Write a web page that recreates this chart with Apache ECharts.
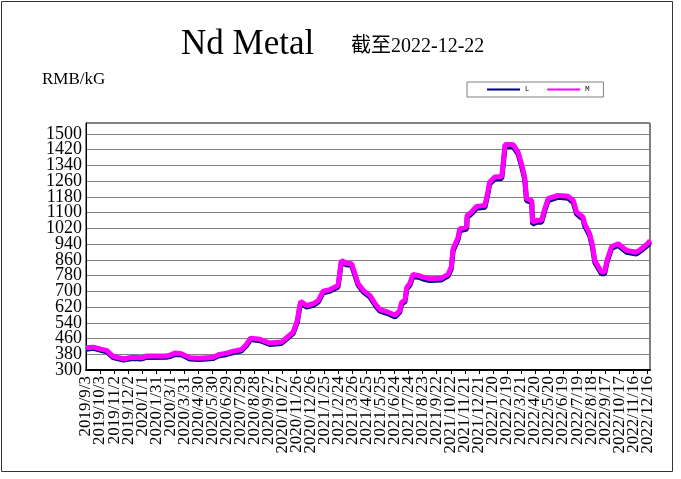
<!DOCTYPE html>
<html><head><meta charset="utf-8">
<script src="https://cdn.jsdelivr.net/npm/echarts@6/dist/echarts.min.js"></script>
<style>html,body{margin:0;padding:0;background:#fff}#c{width:681px;height:479px}</style>
</head><body><div id="c"></div>
<script>
const tickLabels = ['2019/9/3','2019/10/3','2019/11/2','2019/12/2','2020/1/1','2020/1/31','2020/3/1','2020/3/31','2020/4/30','2020/5/30','2020/6/29','2020/7/29','2020/8/28','2020/9/27','2020/10/27','2020/11/26','2020/12/26','2021/1/25','2021/2/24','2021/3/26','2021/4/25','2021/5/25','2021/6/24','2021/7/24','2021/8/23','2021/9/22','2021/10/22','2021/11/21','2021/12/21','2022/1/20','2022/2/19','2022/3/21','2022/4/20','2022/5/20','2022/6/19','2022/7/19','2022/8/18','2022/9/17','2022/10/17','2022/11/16','2022/12/16'];
const dates = ['2019/9/3','2019/9/19','2019/10/7','2019/10/17','2019/10/31','2019/11/22','2019/12/12','2019/12/31','2020/1/10','2020/2/22','2020/2/29','2020/3/11','2020/3/25','2020/4/12','2020/5/3','2020/6/1','2020/6/12','2020/6/30','2020/7/14','2020/7/31','2020/8/11','2020/8/20','2020/9/9','2020/9/30','2020/10/25','2020/11/5','2020/11/19','2020/11/28','2020/12/2','2020/12/5','2020/12/18','2021/1/1','2021/1/12','2021/1/22','2021/2/5','2021/2/23','2021/3/2','2021/3/13','2021/3/24','2021/4/7','2021/4/18','2021/5/2','2021/5/16','2021/5/24','2021/6/10','2021/6/25','2021/7/5','2021/7/9','2021/7/16','2021/7/20','2021/7/27','2021/8/2','2021/8/13','2021/8/24','2021/9/7','2021/10/2','2021/10/16','2021/10/23','2021/10/27','2021/11/7','2021/11/10','2021/11/25','2021/11/26','2021/12/5','2021/12/16','2022/1/3','2022/1/10','2022/1/13','2022/1/24','2022/2/8','2022/2/11','2022/2/15','2022/3/4','2022/3/15','2022/3/22','2022/3/29','2022/4/2','2022/4/13','2022/4/15','2022/4/24','2022/5/4','2022/5/11','2022/5/18','2022/6/8','2022/6/30','2022/7/11','2022/7/18','2022/8/1','2022/8/4','2022/8/15','2022/8/21','2022/8/26','2022/9/9','2022/9/16','2022/9/21','2022/10/1','2022/10/15','2022/11/2','2022/11/23','2022/12/4','2022/12/18','2022/12/22'];
const highM = [413,416,405,400,369,357,365,362,371,371,375,386,383,362,360,365,378,386,396,403,430,462,456,437,442,464,493,552,612,649,628,637,654,701,708,730,857,843,840,739,705,679,628,607,594,578,603,645,654,721,742,786,781,772,764,767,786,823,917,976,1018,1027,1086,1103,1132,1137,1213,1255,1281,1284,1349,1447,1447,1408,1349,1281,1171,1162,1052,1061,1061,1120,1171,1188,1183,1162,1103,1077,1044,993,934,857,798,798,857,928,942,908,899,917,945,959];
const lowL = [406,410,399,393,363,351,358,356,364,365,368,379,377,356,354,358,371,379,389,396,423,455,449,430,435,457,486,544,604,641,620,629,646,693,700,722,848,835,832,731,697,671,620,599,586,570,595,636,646,712,733,777,772,763,755,758,777,814,907,966,1008,1017,1076,1093,1122,1127,1203,1245,1271,1274,1339,1437,1437,1398,1339,1271,1161,1152,1042,1051,1051,1110,1161,1178,1173,1152,1093,1067,1034,983,924,847,789,789,848,919,933,899,890,908,936,950];
const legendNames = ['L','M'];

const t0 = Date.UTC(2019,8,3);
function dayIdx(s){const p=s.split('/').map(Number);return Math.round((Date.UTC(p[0],p[1]-1,p[2])-t0)/86400000);}
const serif = "'Liberation Serif','Noto Sans CJK SC',serif";
const xMax = dayIdx('2022/12/22');
const Y_MIN = 300, Y_MAX = 1556, Y_STEP = 80;

function xLab(onlyMin){
  return {rotate:90,showMaxLabel:false,showMinLabel:onlyMin?true:false,margin:6,color:'#000',fontFamily:serif,fontSize:17,
    formatter:function(v){const i=Math.round(v/30);if(v%30!==0||!tickLabels[i])return '';if(onlyMin)return i===0?tickLabels[0]:'';return tickLabels[i];}};
}
function yLab(onlyMin){
  return {showMaxLabel:false,showMinLabel:onlyMin?true:false,margin:4,color:'#000',fontFamily:serif,fontSize:18,
    formatter:function(v){if(v>=1550)return '';if(onlyMin)return v===Y_MIN?String(v):'';return String(v);}};
}

const chart = echarts.init(document.getElementById('c'), null, {renderer:'canvas'});
chart.setOption({
  animation:false,
  backgroundColor:'#fff',
  title:[
    {text:'Nd Metal',left:176,top:22,textStyle:{fontFamily:serif,fontSize:35,fontWeight:'normal',color:'#000'}},
    {text:'截至2022-12-22',left:346,top:32,textStyle:{fontFamily:serif,fontSize:20,fontWeight:'normal',color:'#000'}},
    {text:'RMB/kG',left:37,top:66,textStyle:{fontFamily:serif,fontSize:17,fontWeight:'normal',color:'#000'}}
  ],
  legend:{data:legendNames,left:467,top:82,padding:[4,14,4,20],itemGap:18,itemWidth:33,itemHeight:2,icon:'rect',
    borderColor:'#808080',borderWidth:1,textStyle:{fontSize:7,color:'#000',fontFamily:'DejaVu Sans Mono'}},
  grid:{left:86,top:123,width:564,height:247,show:true,borderColor:'#000',borderWidth:1,containLabel:false},
  xAxis:[
    {type:'value',min:0,max:xMax,interval:30,position:'bottom',
      axisLine:{show:true,onZero:false,lineStyle:{color:'#000',width:2}},
      axisTick:{show:true,length:4,lineStyle:{color:'#000'}},
      splitLine:{show:false},axisLabel:xLab(false)},
    {type:'value',min:0,max:xMax,interval:30,position:'bottom',offset:0,
      axisLine:{show:false},axisTick:{show:false},splitLine:{show:false},axisLabel:xLab(true)}
  ],
  yAxis:[
    {type:'value',min:Y_MIN,max:Y_MAX,interval:Y_STEP,position:'left',
      axisLine:{show:true,onZero:false,lineStyle:{color:'#000'}},axisTick:{show:false},
      splitLine:{show:true,lineStyle:{color:'#808080',width:1}},axisLabel:yLab(false)},
    {type:'value',min:Y_MIN,max:Y_MAX,interval:Y_STEP,position:'left',offset:0,
      axisLine:{show:false},axisTick:{show:false},splitLine:{show:false},axisLabel:yLab(true)}
  ],
  graphic:[{type:'rect',shape:{x:1.5,y:1.5,width:671,height:470},style:{fill:null,stroke:'#333',lineWidth:1},silent:true}],
  series:[
    {name:'L',type:'line',symbol:'none',xAxisIndex:0,yAxisIndex:0,data:dates.map((d,i)=>[dayIdx(d),lowL[i]]),lineStyle:{color:'#000080',width:5},itemStyle:{color:'#000080'},z:2},
    {name:'M',type:'line',symbol:'none',xAxisIndex:0,yAxisIndex:0,data:dates.map((d,i)=>[dayIdx(d),highM[i]]),lineStyle:{color:'#ff00ff',width:5},itemStyle:{color:'#ff00ff'},z:3}
  ]
});
</script></body></html>
